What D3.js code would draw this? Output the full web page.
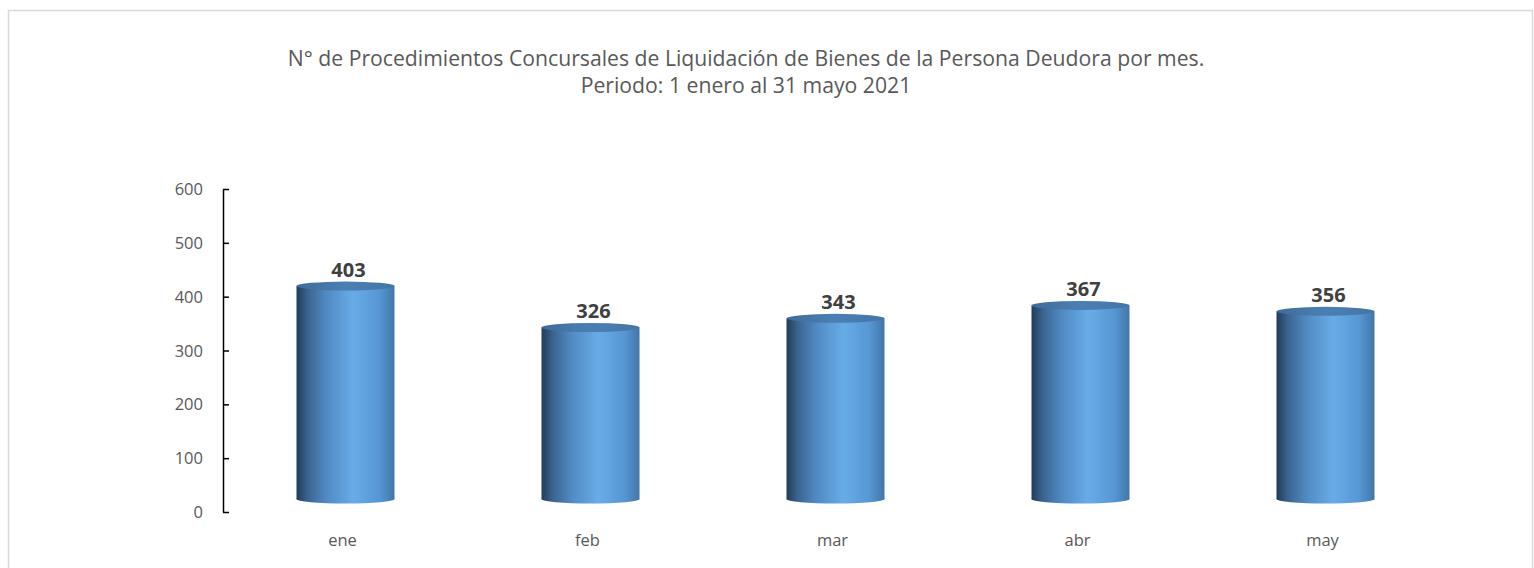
<!DOCTYPE html>
<html>
<head>
<meta charset="utf-8">
<script src="https://cdn.jsdelivr.net/npm/d3@7"></script>
<style>
  body { margin: 0; background: #fff; }
  svg { display: block; }
</style>
</head>
<body>
<svg id="chart" width="1534" height="568"></svg>
<script>
const months = ['ene', 'feb', 'mar', 'abr', 'may'];
const counts = [403, 326, 343, 367, 356];
const yTicks = [0, 100, 200, 300, 400, 500, 600];
const titleLines = [
    'N° de Procedimientos Concursales de Liquidación de Bienes de la Persona Deudora por mes.',
    'Periodo: 1 enero al 31 mayo 2021'
];

const svg = d3.select('#chart');

// chart frame
svg.append('rect')
    .attr('x', 8.5).attr('y', 10.5)
    .attr('width', 1524).attr('height', 600)
    .attr('fill', 'none')
    .attr('stroke', '#d9d9d9')
    .attr('stroke-width', 1.5);

const x = d3.scaleBand()
    .domain(months)
    .range([223, 1448])
    .paddingInner(0.6)
    .paddingOuter(0.3);

const y = d3.scaleLinear()
    .domain([0, 600])
    .range([512, 189]);

// title
svg.append('g')
    .selectAll('text')
    .data(titleLines)
    .join('text')
    .attr('x', 746)
    .attr('y', (d, i) => 66 + i * 27)
    .attr('text-anchor', 'middle')
    .attr('font-family', 'Open Sans, sans-serif')
    .attr('font-size', 21.2)
    .attr('fill', '#595959')
    .text(d => d);

// gradients for cylinder
const defs = svg.append('defs');
const body = defs.append('linearGradient').attr('id', 'body')
    .attr('x1', '0%').attr('x2', '100%').attr('y1', '0%').attr('y2', '0%');
[[0, '#223c58'], [0.12, '#3b6591'], [0.3, '#5089c2'], [0.58, '#68ace7'], [0.85, '#5596d3'], [1, '#4376a8']]
    .forEach(([o, c]) => body.append('stop').attr('offset', o).attr('stop-color', c));
const cap = defs.append('linearGradient').attr('id', 'cap')
    .attr('x1', '0%').attr('x2', '100%').attr('y1', '0%').attr('y2', '0%');
[[0, '#3f6c99'], [0.5, '#4b7fb3'], [1, '#4475a6']]
    .forEach(([o, c]) => cap.append('stop').attr('offset', o).attr('stop-color', c));

// y axis
const axis = svg.append('g')
    .attr('transform', 'translate(223,0)')
    .call(d3.axisRight(y).tickValues(yTicks).tickSize(6).tickSizeOuter(0).tickFormat(''));
axis.select('.domain').attr('stroke', '#000').attr('stroke-width', 1.5);
axis.selectAll('.tick line').attr('stroke', '#000').attr('stroke-width', 1.5);

svg.append('g')
    .selectAll('text')
    .data(yTicks)
    .join('text')
    .attr('x', 203)
    .attr('y', d => y(d) + 6)
    .attr('text-anchor', 'end')
    .attr('font-family', 'Open Sans, sans-serif')
    .attr('font-size', 16.5)
    .attr('fill', '#595959')
    .text(d => d);

// x labels
svg.append('g')
    .selectAll('text')
    .data(months)
    .join('text')
    .attr('x', d => x(d) + x.bandwidth() / 2 - 3)
    .attr('y', 546)
    .attr('text-anchor', 'middle')
    .attr('font-family', 'Open Sans, sans-serif')
    .attr('font-size', 16.5)
    .attr('fill', '#595959')
    .text(d => d);

// cylinders
const depthTop = 9, depthBottom = 13, ry = 4.5;
const bars = svg.append('g')
    .selectAll('g')
    .data(months.map((m, i) => ({ m, v: counts[i] })))
    .join('g');

bars.append('ellipse')
    .attr('cx', d => x(d.m) + x.bandwidth() / 2)
    .attr('cy', y(0) - depthBottom)
    .attr('rx', x.bandwidth() / 2)
    .attr('ry', ry)
    .attr('fill', 'url(#body)');

bars.append('rect')
    .attr('x', d => x(d.m))
    .attr('y', d => y(d.v) - depthTop)
    .attr('width', x.bandwidth())
    .attr('height', d => (y(0) - depthBottom) - (y(d.v) - depthTop))
    .attr('fill', 'url(#body)');

bars.append('ellipse')
    .attr('cx', d => x(d.m) + x.bandwidth() / 2)
    .attr('cy', d => y(d.v) - depthTop)
    .attr('rx', x.bandwidth() / 2)
    .attr('ry', ry)
    .attr('fill', 'url(#cap)');

bars.append('text')
    .attr('x', d => x(d.m) + x.bandwidth() / 2 + 3)
    .attr('y', d => y(d.v) - depthTop - ry - 5)
    .attr('text-anchor', 'middle')
    .attr('font-family', 'Open Sans, sans-serif')
    .attr('font-weight', 'bold')
    .attr('font-size', 20)
    .attr('fill', '#404040')
    .text(d => d.v);
</script>
</body>
</html>
